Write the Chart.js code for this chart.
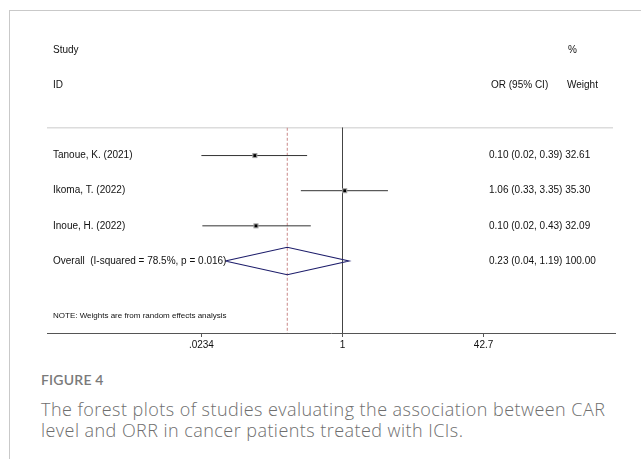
<!DOCTYPE html>
<html>
<head>
<meta charset="utf-8">
<script src="https://cdn.jsdelivr.net/npm/chart.js@4/dist/chart.umd.min.js"></script>
<style>
  html, body { margin: 0; padding: 0; background: #fff; }
  body { width: 641px; height: 459px; position: relative; overflow: hidden; }
  .frame { position: absolute; left: 9px; top: 10px; width: 640px; height: 460px;
           border-left: 1px solid #c9c9c9; border-top: 1px solid #c9c9c9; }
  .plot { position: absolute; left: 0; top: 0; width: 641px; height: 360px; }
  .fig { position: absolute; left: 41px; top: 371px; font: 600 14px/18px Lato, "Open Sans", sans-serif;
         color: #7a7a7a; letter-spacing: 0.2px; }
  .cap { position: absolute; left: 41px; top: 399px; width: 585px; font: 300 18px/21px "Open Sans", Lato, sans-serif;
         letter-spacing: 0.45px; color: #6e6e6e; }
</style>
</head>
<body>
<div class="frame"></div>
<div class="plot"><canvas id="forest"></canvas></div>
<div class="fig">FIGURE 4</div>
<div class="cap">The forest plots of studies evaluating the association between CAR level and ORR in cancer patients treated with ICIs.</div>
<script>
// study rows
const studies = ['Tanoue, K. (2021)', 'Ikoma, T. (2022)', 'Inoue, H. (2022)'];
const oddsRatio = [0.097, 1.06, 0.10];
const ciLower = [0.0234, 0.33, 0.024];
const ciUpper = [0.39, 3.35, 0.43];
const weights = [32.61, 35.30, 32.09];

// pooled estimate
const overallLabel = 'Overall  (I-squared = 78.5%, p = 0.016)';
const overallOR = 0.23;
const overallLower = 0.044;
const overallUpper = 1.19;
const overallWeight = 100.00;

// axis
const tickValues = [0.0234, 1, 42.7];
const tickLabels = ['.0234', '1', '42.7'];

const noteText = 'NOTE: Weights are from random effects analysis';

// row layout (in row units on the y scale)
const Y_MIN = -4, Y_MAX = 5.05, SEP_ROW = -0.79, NOTE_ROW = 4.57;
const overallRow = studies.length;

const fmt = v => v.toFixed(2);
const statText = (o, l, u, w) => `${fmt(o)} (${fmt(l)}, ${fmt(u)}) ${fmt(w)}`;

const datasets = [];

// centre points + weight boxes
datasets.push({
  data: oddsRatio.map((v, i) => ({ x: v, y: i })),
  pointStyle: 'rect', pointRadius: 2, backgroundColor: '#000', borderWidth: 0, order: 0
});
datasets.push({
  data: oddsRatio.map((v, i) => ({ x: v, y: i })),
  pointStyle: 'rect', pointRadius: 3.6, backgroundColor: '#a0a0a0', borderWidth: 0, order: 1
});

// confidence intervals
studies.forEach((s, i) => {
  datasets.push({
    data: [{ x: ciLower[i], y: i }, { x: ciUpper[i], y: i }],
    showLine: true, borderColor: '#333', borderWidth: 1, pointRadius: 0, order: 2
  });
});

// pooled diamond
datasets.push({
  data: [
    { x: overallLower, y: overallRow },
    { x: overallOR, y: overallRow - 0.39 },
    { x: overallUpper, y: overallRow },
    { x: overallOR, y: overallRow + 0.39 },
    { x: overallLower, y: overallRow }
  ],
  showLine: true, borderColor: '#1c1c6a', borderWidth: 1.1, pointRadius: 0, fill: false, order: 2
});

// line of no effect
datasets.push({
  data: [{ x: 1, y: SEP_ROW }, { x: 1, y: Y_MAX }],
  showLine: true, borderColor: '#444', borderWidth: 1, pointRadius: 0, order: 3
});

// pooled estimate dashed line
datasets.push({
  data: [{ x: overallOR, y: SEP_ROW }, { x: overallOR, y: Y_MAX }],
  showLine: true, borderColor: '#c98888', borderWidth: 1, borderDash: [3, 2], pointRadius: 0, order: 3
});

const textPlugin = {
  id: 'forestText',
  beforeDatasetsDraw(chart) {
    const { ctx, chartArea, scales } = chart;
    const y = scales.y.getPixelForValue(SEP_ROW);
    ctx.save();
    ctx.strokeStyle = '#dcdcdc';
    ctx.lineWidth = 1.5;
    ctx.beginPath();
    ctx.moveTo(chartArea.left, y);
    ctx.lineTo(chartArea.right - 2, y);
    ctx.stroke();
    ctx.restore();
  },
  afterDatasetsDraw(chart) {
    const { ctx, scales } = chart;
    const py = v => scales.y.getPixelForValue(v);
    const left = 53, statX = 489;
    ctx.save();
    ctx.fillStyle = '#111';
    ctx.textBaseline = 'middle';
    ctx.font = '10px "Liberation Sans", Arial, sans-serif';
    ctx.fillText('Study', left, py(-3));
    ctx.fillText('ID', left, py(-2));
    ctx.fillText('OR (95% CI)', statX + 2, py(-2));
    ctx.fillText('%', 568, py(-3));
    ctx.fillText('Weight', 567, py(-2));
    studies.forEach((s, i) => {
      ctx.fillText(s, left, py(i));
      ctx.fillText(statText(oddsRatio[i], ciLower[i], ciUpper[i], weights[i]), statX, py(i));
    });
    ctx.fillText(overallLabel, left, py(overallRow));
    ctx.fillText(statText(overallOR, overallLower, overallUpper, overallWeight), statX, py(overallRow));
    ctx.font = '8px "Liberation Sans Narrow", "Liberation Sans", Arial, sans-serif';
    ctx.fillText(noteText, left, py(NOTE_ROW));
    ctx.restore();
  }
};

new Chart(document.getElementById('forest'), {
  type: 'scatter',
  data: { datasets },
  options: {
    responsive: true,
    maintainAspectRatio: false,
    animation: false,
    layout: { padding: { left: 47, right: 26, top: 15, bottom: 7 } },
    plugins: { legend: { display: false }, tooltip: { enabled: false } },
    scales: {
      x: {
        type: 'logarithmic',
        min: Math.pow(10, -3.415),
        max: Math.pow(10, 3.149),
        afterBuildTicks: scale => { scale.ticks = tickValues.map(v => ({ value: v })); },
        ticks: {
          autoSkip: false, maxRotation: 0, padding: 2, color: '#111',
          font: { family: '"Liberation Sans", Arial, sans-serif', size: 10 },
          callback: (v, i) => tickLabels[i]
        },
        grid: { drawOnChartArea: false, drawTicks: true, tickLength: 4, color: '#555' },
        border: { display: true, color: '#555', width: 1 }
      },
      y: {
        type: 'linear', reverse: true, display: false, min: Y_MIN, max: Y_MAX
      }
    }
  },
  plugins: [textPlugin]
});
</script>
</body>
</html>
